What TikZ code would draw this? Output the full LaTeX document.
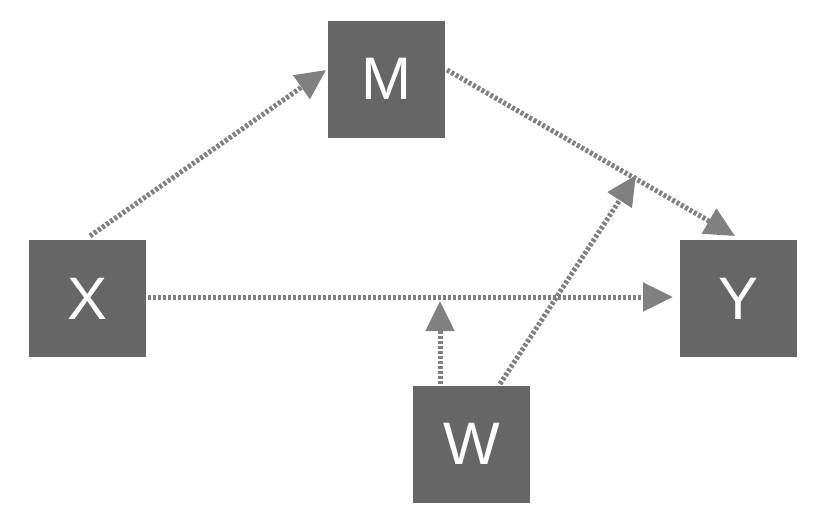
\documentclass[tikz,border=0pt]{standalone}
\usepackage{fontspec}
\setmainfont{Liberation Sans}
\usetikzlibrary{arrows.meta}
\definecolor{boxc}{HTML}{666666}
\definecolor{arrc}{HTML}{808080}
\tikzset{
  varbox/.style={fill=boxc, text=white, minimum width=117pt, minimum height=117pt, inner sep=0pt, font=\fontsize{60}{60}\selectfont},
  conn/.style={draw=arrc, line width=5pt, dash pattern=on 3pt off 2pt, -{Triangle[length=30pt,width=28pt,fill=arrc]}}
}
\begin{document}
\begin{tikzpicture}[x=1pt,y=-1pt]
\useasboundingbox[fill=white] (0,0) rectangle (833,525);
\node[varbox] (M) at (386.5,79) {M};
\node[varbox] (X) at (87.5,298.5) {X};
\node[varbox] (Y) at (738.5,298.5) {Y};
\node[varbox] (W) at (471.5,444) {W};
\coordinate (xs) at (90,236);
\coordinate (me) at (326,70);
\coordinate (ms) at (447,70);
\coordinate (ye) at (735,236);
\coordinate (xy) at (148,297);
\coordinate (ye2) at (673,297);
\coordinate (ws1) at (440,384);
\coordinate (we1) at (440,301);
\coordinate (ws2) at (500,384);
\coordinate (we2) at (636,175);
\draw[conn] (xs) -- (me);
\draw[conn] (ms) -- (ye);
\draw[conn] (xy) -- (ye2);
\draw[conn] (ws1) -- (we1);
\draw[conn] (ws2) -- (we2);
\end{tikzpicture}
\end{document}
